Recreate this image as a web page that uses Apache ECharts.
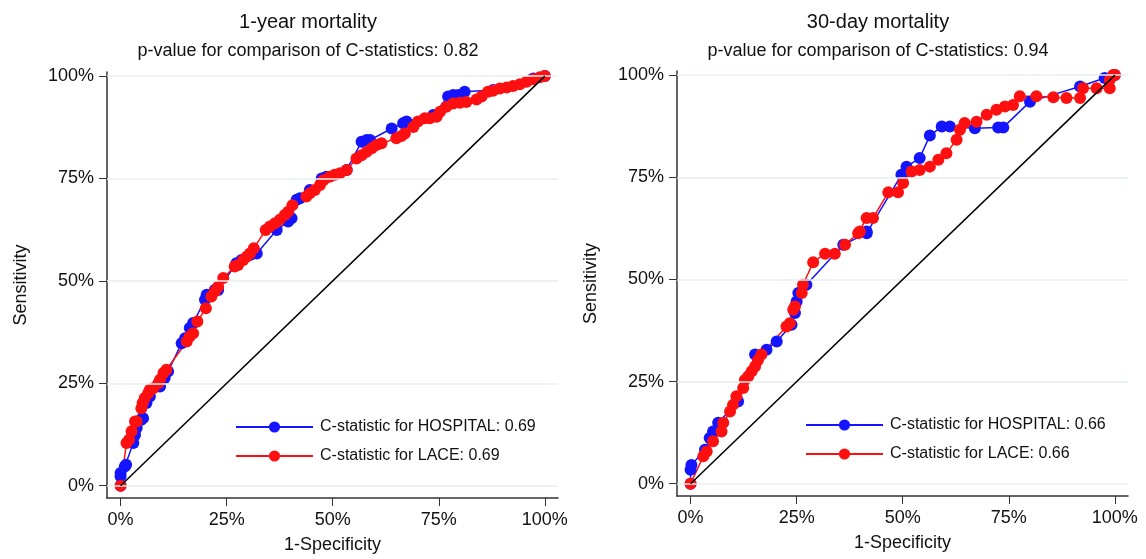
<!DOCTYPE html>
<html>
<head>
    <meta charset="UTF-8">
    <title>ROC curves</title>
    <script type="text/javascript" src="https://cdn.jsdelivr.net/npm/echarts@6/dist/echarts.min.js"></script>
</head>
<body style="margin: 0;overflow: hidden;background: #fff;">
<div id="chart" style="width: 1146px;height: 559px"></div>
<script type="text/javascript">
    // [1-specificity, sensitivity] pairs
    var yearHospital = [
        [0, 0], [0, 0.023], [0, 0.031], [0.010, 0.047], [0.013, 0.051], [0.030, 0.104], [0.034, 0.124],
        [0.038, 0.141], [0.049, 0.161], [0.053, 0.165], [0.061, 0.202], [0.069, 0.218], [0.093, 0.242],
        [0.104, 0.263], [0.112, 0.279], [0.144, 0.348], [0.152, 0.360], [0.163, 0.385], [0.171, 0.397],
        [0.199, 0.454], [0.203, 0.466], [0.222, 0.478], [0.230, 0.478], [0.273, 0.543], [0.285, 0.551],
        [0.305, 0.563], [0.321, 0.567], [0.368, 0.624], [0.395, 0.645], [0.403, 0.653], [0.415, 0.698],
        [0.423, 0.702], [0.446, 0.722], [0.474, 0.750], [0.485, 0.754], [0.533, 0.771], [0.568, 0.840],
        [0.580, 0.844], [0.588, 0.844], [0.639, 0.872], [0.666, 0.885], [0.674, 0.889], [0.737, 0.905],
        [0.772, 0.950], [0.784, 0.954], [0.796, 0.954], [0.811, 0.962], [0.878, 0.966], [0.973, 0.994], [1, 1]
    ];
    var yearLace = [
        [0, 0], [0.014, 0.104], [0.020, 0.112], [0.026, 0.133], [0.034, 0.157], [0.038, 0.157], [0.049, 0.189],
        [0.052, 0.202], [0.057, 0.214], [0.065, 0.226], [0.069, 0.234], [0.077, 0.238], [0.089, 0.250],
        [0.093, 0.259], [0.101, 0.275], [0.108, 0.283], [0.156, 0.352], [0.163, 0.364], [0.171, 0.372],
        [0.181, 0.401], [0.201, 0.433], [0.214, 0.462], [0.222, 0.474], [0.230, 0.486], [0.242, 0.507],
        [0.269, 0.535], [0.277, 0.539], [0.289, 0.551], [0.297, 0.559], [0.305, 0.567], [0.314, 0.580],
        [0.342, 0.624], [0.352, 0.633], [0.364, 0.641], [0.375, 0.649], [0.387, 0.661], [0.395, 0.669],
        [0.405, 0.685], [0.438, 0.706], [0.446, 0.714], [0.458, 0.722], [0.470, 0.734], [0.478, 0.746],
        [0.493, 0.754], [0.505, 0.759], [0.517, 0.763], [0.533, 0.771], [0.556, 0.799], [0.568, 0.807],
        [0.580, 0.815], [0.592, 0.824], [0.603, 0.832], [0.615, 0.836], [0.650, 0.848], [0.662, 0.854],
        [0.670, 0.860], [0.690, 0.876], [0.701, 0.889], [0.717, 0.897], [0.729, 0.897], [0.745, 0.901],
        [0.753, 0.913], [0.768, 0.925], [0.784, 0.933], [0.800, 0.935], [0.815, 0.937], [0.839, 0.943],
        [0.851, 0.950], [0.866, 0.962], [0.878, 0.964], [0.894, 0.970], [0.910, 0.972], [0.925, 0.976],
        [0.941, 0.980], [0.957, 0.986], [0.973, 0.992], [0.988, 0.997], [1, 1]
    ];
    var dayHospital = [
        [0, 0], [0, 0.034], [0.002, 0.046], [0.034, 0.083], [0.045, 0.112], [0.053, 0.128], [0.065, 0.149],
        [0.112, 0.201], [0.152, 0.316], [0.179, 0.328], [0.203, 0.348], [0.238, 0.389], [0.246, 0.418],
        [0.250, 0.446], [0.254, 0.467], [0.273, 0.487], [0.360, 0.585], [0.415, 0.613], [0.415, 0.617],
        [0.497, 0.756], [0.509, 0.776], [0.540, 0.797], [0.564, 0.852], [0.592, 0.874], [0.611, 0.874],
        [0.670, 0.870], [0.725, 0.872], [0.737, 0.872], [0.800, 0.935], [0.918, 0.972], [0.976, 0.993], [1, 1]
    ];
    var dayLace = [
        [0, 0], [0.030, 0.067], [0.038, 0.079], [0.053, 0.104], [0.073, 0.128], [0.077, 0.149], [0.093, 0.177],
        [0.100, 0.193], [0.108, 0.214], [0.124, 0.234], [0.128, 0.254], [0.136, 0.263], [0.144, 0.275],
        [0.152, 0.287], [0.159, 0.303], [0.167, 0.316], [0.226, 0.385], [0.234, 0.393], [0.242, 0.426],
        [0.246, 0.434], [0.262, 0.467], [0.265, 0.487], [0.289, 0.542], [0.317, 0.563], [0.340, 0.563],
        [0.364, 0.585], [0.395, 0.613], [0.399, 0.617], [0.415, 0.650], [0.430, 0.650], [0.466, 0.713],
        [0.489, 0.713], [0.501, 0.736], [0.521, 0.764], [0.540, 0.768], [0.564, 0.776], [0.584, 0.793],
        [0.603, 0.809], [0.627, 0.842], [0.635, 0.866], [0.646, 0.883], [0.674, 0.886], [0.698, 0.903],
        [0.721, 0.915], [0.741, 0.923], [0.760, 0.927], [0.776, 0.948], [0.815, 0.948], [0.855, 0.946],
        [0.886, 0.944], [0.918, 0.944], [0.925, 0.968], [0.957, 0.968], [0.988, 0.968], [0.988, 0.988],
        [0.996, 1.0], [1, 1]
    ];
    var diagonal = [[0, 0], [1, 1]];
    var tickValues = [0, 0.25, 0.5, 0.75, 1];
    var panelTitles = ['1-year mortality', '30-day mortality'];
    var panelSubtitles = ['p-value for comparison of C-statistics: 0.82', 'p-value for comparison of C-statistics: 0.94'];
    var legendNames = [
        ['C-statistic for HOSPITAL: 0.69', 'C-statistic for LACE: 0.69'],
        ['C-statistic for HOSPITAL: 0.66', 'C-statistic for LACE: 0.66']
    ];

    var font = '"Liberation Sans", Arial, sans-serif';
    var grids = [
        {left: 107, top: 72, width: 451, height: 426},
        {left: 677, top: 71, width: 451, height: 425}
    ];

    function pct(v) {
        return Math.round(v * 100) + '%';
    }

    function xAxis(i) {
        return {
            type: 'value', gridIndex: i, min: -0.032, max: 1.031,
            name: '1-Specificity', nameLocation: 'middle', nameGap: 38,
            nameTextStyle: {fontFamily: font, fontSize: 18, color: '#111'},
            axisLine: {show: true, onZero: false, lineStyle: {color: '#333', width: 1.5}},
            axisTick: {show: true, length: 8, customValues: tickValues, lineStyle: {color: '#333'}},
            axisLabel: {customValues: tickValues, formatter: pct, margin: 13,
                fontFamily: font, fontSize: 18, color: '#111'},
            splitLine: {show: false}
        };
    }

    function yAxis(i) {
        return {
            type: 'value', gridIndex: i, min: -0.03, max: 1.01,
            name: 'Sensitivity', nameLocation: 'middle', nameGap: 77, nameRotate: 90,
            nameTextStyle: {fontFamily: font, fontSize: 18, color: '#111'},
            axisLine: {show: true, onZero: false, lineStyle: {color: '#333', width: 1.5}},
            axisTick: {show: true, length: 8, customValues: tickValues, lineStyle: {color: '#333'}},
            axisLabel: {customValues: tickValues, formatter: pct, margin: 13,
                fontFamily: font, fontSize: 18, color: '#111'},
            splitLine: {show: false}
        };
    }

    function rocSeries(name, data, color, i) {
        return {
            name: name, type: 'line', data: data, xAxisIndex: i, yAxisIndex: i,
            symbol: 'circle', symbolSize: 12, showAllSymbol: true,
            itemStyle: {color: color},
            lineStyle: {color: color, width: 1.5}
        };
    }

    function gridLines(i) {
        // pale horizontal rules at each tick
        return {
            type: 'line', data: [], xAxisIndex: i, yAxisIndex: i, silent: true, z: 1,
            markLine: {
                silent: true, symbol: 'none', label: {show: false},
                lineStyle: {color: '#e6efef', type: 'solid', width: 1.5},
                data: tickValues.map(function (v) { return {yAxis: v}; })
            }
        };
    }

    function diagSeries(i) {
        return {
            type: 'line', data: diagonal, xAxisIndex: i, yAxisIndex: i, z: 5,
            showSymbol: false, lineStyle: {color: '#000', width: 1.5}
        };
    }

    var titleStyle = {fontFamily: font, fontSize: 20, fontWeight: 'normal', color: '#111'};
    var subStyle = {fontFamily: font, fontSize: 18, fontWeight: 'normal', color: '#111'};
    var legendText = {fontFamily: font, fontSize: 16, color: '#111', padding: [0, 0, 0, 2]};

    var option = {
        animation: false,
        backgroundColor: '#fff',
        title: [
            {text: panelTitles[0], left: 303, textAlign: 'center', top: 7, textStyle: titleStyle},
            {text: panelSubtitles[0], left: 303, textAlign: 'center', top: 37, textStyle: subStyle},
            {text: panelTitles[1], left: 873, textAlign: 'center', top: 7, textStyle: titleStyle},
            {text: panelSubtitles[1], left: 873, textAlign: 'center', top: 37, textStyle: subStyle}
        ],
        legend: [
            {data: legendNames[0], orient: 'vertical', left: 230, top: 414, itemWidth: 77, itemHeight: 14,
                itemGap: 13, textStyle: legendText},
            {data: legendNames[1], orient: 'vertical', left: 800, top: 412, itemWidth: 77, itemHeight: 14,
                itemGap: 13, textStyle: legendText}
        ],
        grid: grids,
        xAxis: [xAxis(0), xAxis(1)],
        yAxis: [yAxis(0), yAxis(1)],
        series: [
            gridLines(0),
            rocSeries(legendNames[0][0], yearHospital, '#1414ff', 0),
            rocSeries(legendNames[0][1], yearLace, '#ff1010', 0),
            diagSeries(0),
            gridLines(1),
            rocSeries(legendNames[1][0], dayHospital, '#1414ff', 1),
            rocSeries(legendNames[1][1], dayLace, '#ff1010', 1),
            diagSeries(1)
        ]
    };

    var chart = echarts.init(document.getElementById('chart'));
    chart.setOption(option);
</script>
</body>
</html>
